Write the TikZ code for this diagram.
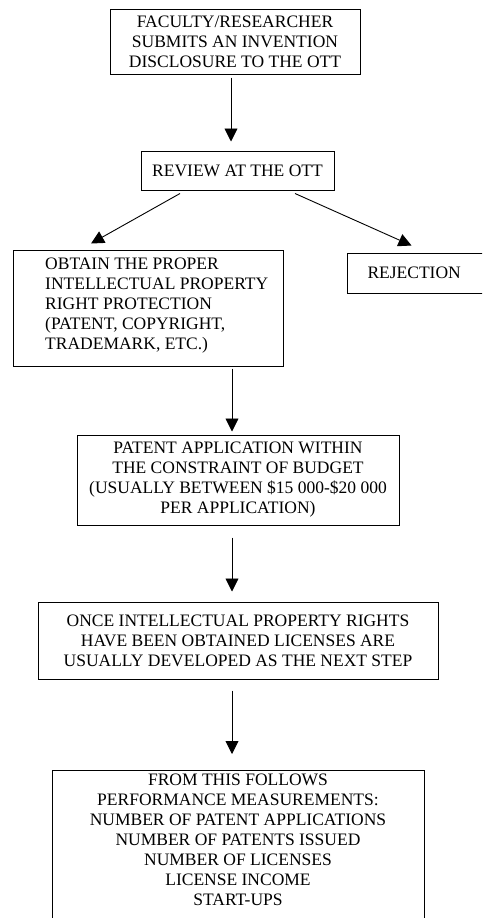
\documentclass[tikz,border=0pt]{standalone}
\usepackage{fontspec}
\setmainfont{Liberation Serif}
\usetikzlibrary{arrows.meta}

\begin{document}
\begin{tikzpicture}[x=1pt,y=-1pt,
    txt/.style={font=\fontsize{17.5}{20}\selectfont},
    stepbox/.style={txt,draw,line width=1pt,align=center,inner sep=0pt},
    flow/.style={-{Triangle[length=13pt,width=13pt]},line width=0.9pt}]
  \clip (0,0) rectangle (482,918);
  % boxes, top to bottom
  \node[stepbox,minimum width=250pt,minimum height=65pt] (submit) at (235,41.5)
    {FACULTY/RESEARCHER\\SUBMITS AN INVENTION\\DISCLOSURE TO THE OTT};
  \node[stepbox,minimum width=193pt,minimum height=39pt] (review) at (237.5,170.5)
    {REVIEW AT THE OTT};
  \node[stepbox,minimum width=270pt,minimum height=116pt] (obtain) at (148,308) {};
  \node[txt,anchor=west,align=left,inner sep=0pt] (obtaintext) at (45,306)
    {OBTAIN THE PROPER\\INTELLECTUAL PROPERTY\\RIGHT PROTECTION\\(PATENT, COPYRIGHT,\\TRADEMARK, ETC.)};
  \node[stepbox,align=left,text width=140pt,inner xsep=20pt,minimum height=40pt,
        anchor=west] (reject) at (347,273) {REJECTION};
  \node[stepbox,minimum width=322pt,minimum height=90pt] (patent) at (238,480)
    {PATENT APPLICATION WITHIN\\THE CONSTRAINT OF BUDGET\\(USUALLY BETWEEN \$15 000-\$20 000\\PER APPLICATION)};
  \node[stepbox,minimum width=400pt,minimum height=77pt] (license) at (238,640.5)
    {ONCE INTELLECTUAL PROPERTY RIGHTS\\HAVE BEEN OBTAINED LICENSES ARE\\USUALLY DEVELOPED AS THE NEXT STEP};
  \node[stepbox,minimum width=372pt,inner ysep=3pt,text depth=150pt,anchor=north] (perf) at (238,770)
    {FROM THIS FOLLOWS\\PERFORMANCE MEASUREMENTS:\\NUMBER OF PATENT APPLICATIONS\\NUMBER OF PATENTS ISSUED\\NUMBER OF LICENSES\\LICENSE INCOME\\START-UPS};
  % arrows
  \draw[flow] ([xshift=-4pt,yshift=-3pt]submit.south) -- ([xshift=-6.5pt,yshift=9pt]review.north);
  \draw[flow] ([xshift=-57.5pt,yshift=-3pt]review.south) -- ([xshift=-57pt,yshift=6pt]obtain.north);
  \draw[flow] ([xshift=57.5pt,yshift=-3pt]review.south) -- ([xshift=-26pt,yshift=7pt]reject.north);
  \draw[flow] ([xshift=84pt,yshift=-2pt]obtain.south) -- ([xshift=-6pt,yshift=3pt]patent.north);
  \draw[flow] ([xshift=-6pt,yshift=-12pt]patent.south) -- ([xshift=-6pt,yshift=10pt]license.north);
  \draw[flow] ([xshift=-6pt,yshift=-11pt]license.south) -- ([xshift=-6pt,yshift=16pt]perf.north);
\end{tikzpicture}
\end{document}
